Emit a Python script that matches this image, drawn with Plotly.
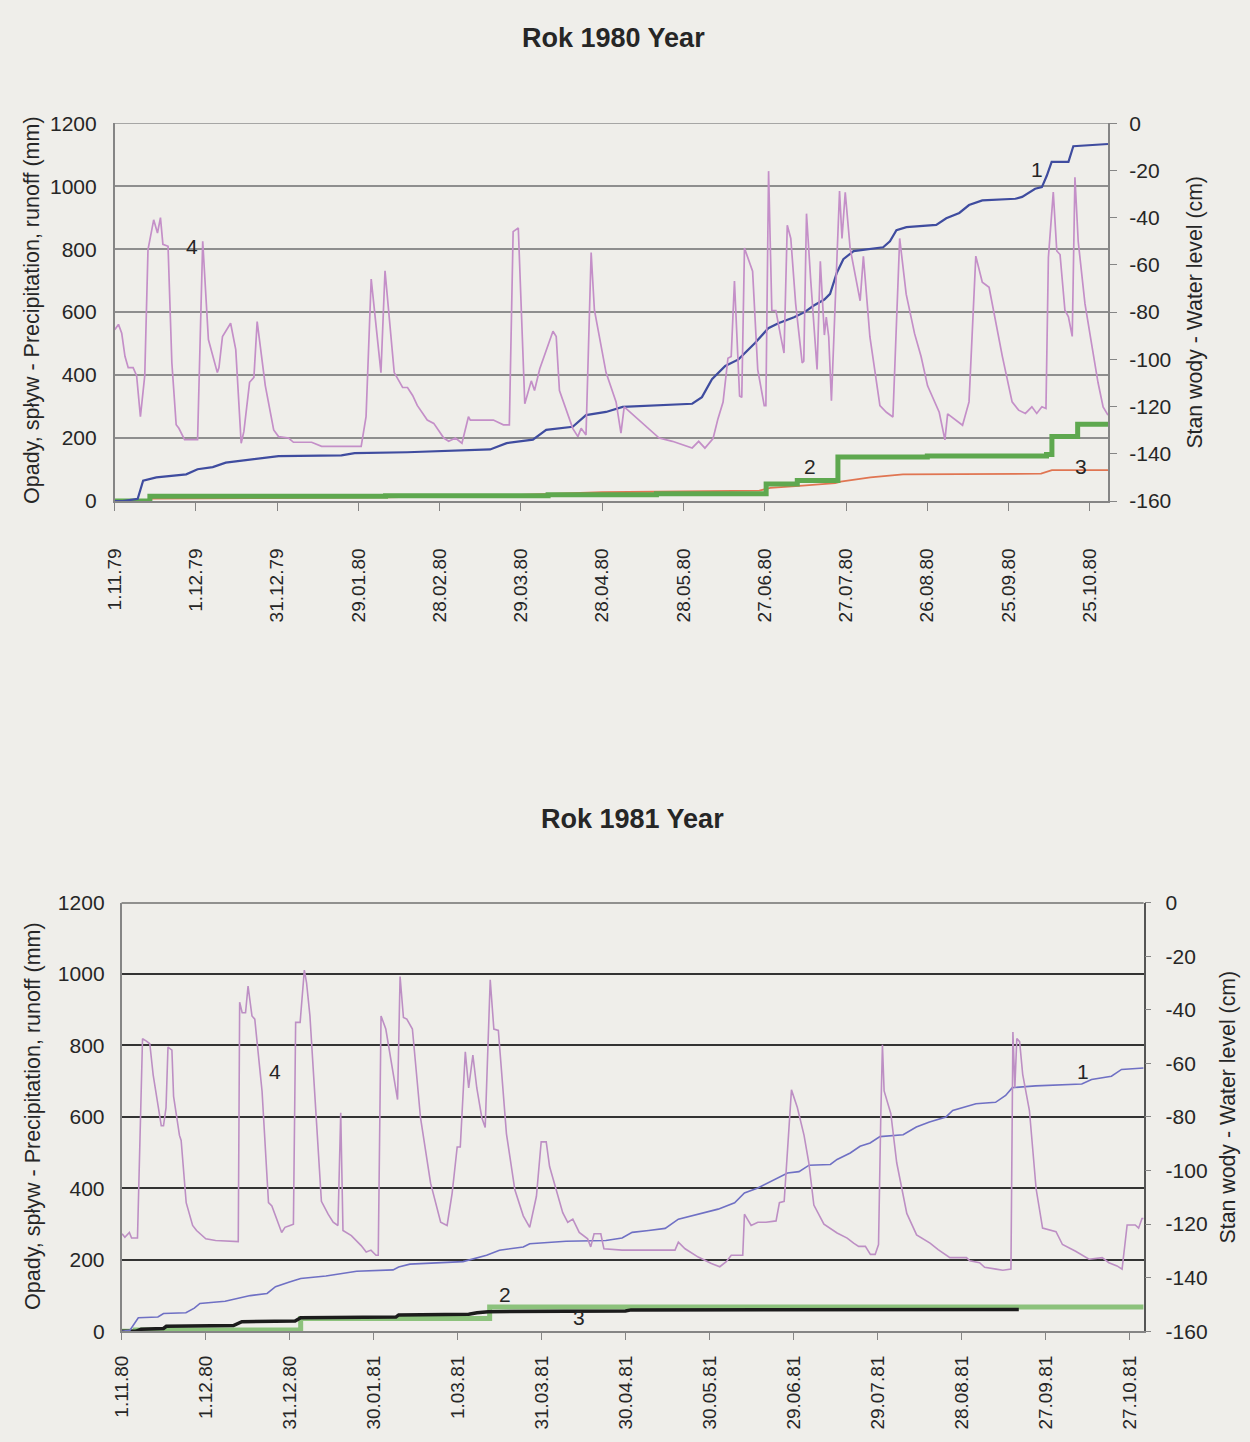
import plotly.graph_objects as go

W, H = 1250, 1442
PAPER = "rgb(239,238,234)"
FONT = "Liberation Sans, Arial, sans-serif"
INK = "#262626"

# ---------------- Rok 1980 (day 0 = 1.11.79) ----------------
ticks_80 = ["1.11.79", "1.12.79", "31.12.79", "29.01.80", "28.02.80", "29.03.80",
            "28.04.80", "28.05.80", "27.06.80", "27.07.80", "26.08.80", "25.09.80", "25.10.80"]

# 1 - cumulative precipitation (mm)
p80_day = [0, 3, 8.5, 10.5, 15.4, 26.4, 30.6, 36.2, 41.0, 50.8, 60.5, 83.7, 88.6, 108, 138.6,
           144.7, 154.4, 159.3, 169.1, 174.0, 181.4, 187.5, 199.7, 213.2, 216.8, 220.5, 225.4,
           230.3, 236.4, 241.3, 245.0, 250.8, 254.7, 258.1, 262.0, 264.1, 266.6, 269.0, 272.8,
           283.7, 286.2, 288.6, 292.3, 303.3, 307.0, 311.8, 315.4, 320.3, 332.5, 335.0, 339.8,
           342.3, 344.1, 345.9, 352.1, 353.9, 366.7]
p80_mm = [0, 0, 7, 65, 75, 85, 101, 108, 122, 132, 143, 145, 152, 155, 164,
          184, 195, 226, 236, 273, 283, 299, 304, 309, 330, 387, 429,
          450, 502, 549, 565, 584, 600, 621, 640, 658, 725, 768, 794,
          806, 825, 860, 870, 877, 898, 915, 940, 955, 960, 966, 992,
          997, 1033, 1077, 1077, 1127, 1134]

# 2 - cumulative runoff (mm), stepwise
r80_day = [0, 13, 100, 160, 200, 240.5, 252, 267, 300, 344, 346, 355.5, 366.7]
r80_mm = [0, 15, 17, 20, 23, 54, 65, 140, 143, 148, 205, 244, 244]

# 3 - cumulative runoff, second series (mm)
s80_day = [0, 12, 14, 100, 150, 180, 238, 242, 254, 266, 268, 279, 291, 342, 346, 366.7]
s80_mm = [0, 0, 8, 12, 20, 28, 33, 42, 49, 57, 62, 75, 85, 87, 98, 98]

# 4 - water level (cm)
w80_day = [0, 1.4, 2.6, 3.8, 5.0, 6.8, 8.1, 9.5, 11.1, 12.3, 14.4, 15.8, 16.9, 17.8, 19.7,
           21.1, 22.7, 23.7, 25.8, 30.6, 32.5, 34.6, 37.9, 38.5, 39.8, 42.8, 44.7, 46.7, 47.7,
           49.8, 51.4, 52.6, 55.6, 58.7, 60.5, 64.2, 66.0, 72.7, 76.4, 91.0, 92.8, 94.7, 98.3,
           99.8, 103.2, 106.3, 108.1, 110.0, 111.7, 115.4, 117.8, 121.5, 123.3, 125.8, 128.2,
           130.6, 131.3, 139.8, 143.5, 145.7, 147.1, 149.0, 151.4, 153.8, 155.0, 156.9, 161.8,
           163.0, 164.2, 169.1, 171.0, 172.2, 174.0, 175.9, 177.1, 181.4, 185.1, 186.9, 188.1,
           193.6, 197.3, 201.0, 205.9, 213.2, 215.6, 217.9, 220.9, 222.7, 224.6, 226.4, 227.6,
           228.8, 230.7, 231.5, 232.5, 234.3, 235.5, 237.4, 239.8, 240.4, 241.4, 242.6, 244.1,
           245.9, 247.1, 248.3, 249.6, 251.4, 253.8, 254.4, 255.4, 256.9, 259.3, 260.5, 262.0,
           262.7, 263.6, 264.6, 266.0, 267.6, 268.5, 269.7, 271.5, 274.0, 275.2, 276.4, 278.8,
           282.5, 284.9, 287.3, 287.9, 289.8, 292.2, 295.3, 297.7, 300.1, 304.4, 306.5, 307.5,
           310.5, 313.0, 315.4, 317.9, 320.3, 322.8, 327.7, 331.3, 333.7, 336.2, 338.6, 340.4,
           342.3, 343.8, 344.7, 346.5, 347.8, 349.0, 350.8, 352.1, 353.5, 354.5, 355.7, 358.2,
           360.6, 363.0, 364.9, 366.7]
w80_cm = [-87.5, -85.2, -88.9, -98.7, -103.5, -103.5, -106.9, -124.3, -106.9, -53.5, -40.9, -46.5, -40.0, -51.3, -52.1,
          -101.3, -127.7, -129.2, -134.0, -134.0, -50.0, -91.6, -105.6, -103.5, -90.3, -84.7, -95.9, -135.5, -130.5,
          -109.7, -107.6, -84.0, -111.1, -129.9, -132.7, -133.3, -135.1, -135.1, -136.8, -136.8, -124.3, -66.0, -105.6,
          -62.5, -105.6, -111.9, -111.9, -115.3, -119.5, -125.7, -127.1, -133.3, -134.7, -133.3, -135.5,
          -124.3, -125.7, -125.7, -127.7, -127.7, -45.9, -44.4, -118.8, -109.1, -113.2, -104.1, -88.1,
          -90.3, -113.2, -129.2, -132.7, -129.2, -132.0, -54.8, -79.1, -105.6, -118.0, -131.2, -120.1,
          -125.7, -129.2, -133.3, -134.7, -137.5, -134.7, -137.6, -133.5, -125.2, -118.1, -99.5, -98.8,
          -66.8, -115.5, -116.1, -52.9, -58.5, -62.7, -104.3, -119.6, -119.6, -20.3, -79.3, -79.3,
          -90.4, -97.3, -43.2, -48.8, -76.5, -101.5, -100.8, -38.3, -65.5, -104.3, -58.5, -89.7,
          -82.1, -90.4, -117.5, -73.7, -28.7, -48.8, -29.3, -52.9, -68.1, -75.2, -56.4, -90.4,
          -119.6, -122.4, -124.4, -105.7, -48.8, -72.4, -89.1, -98.8, -111.2, -122.4, -134.1, -123.1,
          -125.9, -127.9, -118.0, -56.3, -67.3, -69.5, -98.7, -118.0, -121.5, -122.9, -120.1, -122.9,
          -120.1, -120.8, -56.9, -29.2, -54.1, -55.6, -79.2, -82.0, -90.3, -22.9, -50.0, -76.4,
          -93.1, -109.7, -120.1, -123.6]

# ---------------- Rok 1981 (day 0 = 1.11.80) ----------------
ticks_81 = ["1.11.80", "1.12.80", "31.12.80", "30.01.81", "1.03.81", "31.03.81",
            "30.04.81", "30.05.81", "29.06.81", "29.07.81", "28.08.81", "27.09.81", "27.10.81"]

p81_day = [0, 3, 6, 13, 15, 23, 26, 28, 37, 41, 46, 52, 55, 60, 64, 73, 78, 84, 97, 99, 103, 109,
           122, 130.4, 135, 143.5, 145.8, 158.8, 173, 178.8, 182.4, 188.3, 194.2, 198.9, 208.4,
           213.1, 219, 222.5, 227.3, 229.6, 237.9, 242, 245.6, 253.2, 255.6, 260.3, 263.8, 267.4,
           270.9, 279.2, 283.9, 288.6, 294.5, 296.9, 305.2, 312.2, 315.8, 318.2, 326.5, 343,
           346.5, 353.6, 357.2, 365.1]
p81_mm = [0, 3, 38, 40, 50, 52, 65, 78, 84, 92, 100, 106, 125, 138, 148, 155, 160, 168, 172, 180, 188, 190,
          195, 213, 227, 236, 245, 252, 254, 261, 277, 282, 288, 314, 332,
          342, 360, 387, 401, 410, 443, 447, 465, 467, 481, 499, 518, 527,
          545, 550, 572, 586, 600, 618, 637, 641, 660, 682, 687, 692,
          705, 714, 733, 737]

r81_day = [0, 5, 64, 131.5, 365.1]
r81_mm = [0, 4, 36, 68, 68]

s81_day = [0, 5, 7, 15, 16, 40, 43, 62, 64, 98, 99, 124, 127, 131, 180, 182, 320.5]
s81_mm = [0, 0, 6, 8, 14, 16, 27, 29, 38, 40, 46, 48, 52, 55, 57, 60, 61]

w81_day = [0.2, 1.2, 2.8, 3.6, 5.7, 7.5, 8.9, 10.1, 11.3, 14.2, 15.0, 15.9, 16.6, 18.0, 18.6,
           20.7, 21.3, 23.1, 25.4, 26.8, 30.1, 33.6, 41.7, 42.2, 43.1, 44.3, 45.2, 46.6, 47.6,
           50.2, 52.5, 53.7, 57.2, 58.4, 60.2, 61.4, 62.2, 63.8, 65.3, 66.1, 67.3, 70.3, 71.4,
           73.8, 75.6, 77.3, 78.3, 79.1, 82.1, 85.6, 87.4, 89.1, 90.9, 91.7, 92.7, 94.4, 95.6,
           97.4, 98.6, 99.5, 100.7, 101.9, 103.9, 106.8, 110.4, 114.0, 116.3, 118.1, 119.9,
           121.0, 122.8, 124.0, 125.5, 126.9, 128.7, 129.9, 131.7, 133.0, 134.6, 137.5, 140.5,
           143.5, 145.8, 148.2, 149.9, 151.7, 152.9, 157.6, 159.4, 161.2, 163.5, 166.5, 167.6,
           168.8, 171.2, 172.3, 178.8, 197.7, 198.9, 201.3, 206.0, 210.7, 213.7, 216.0, 217.8,
           221.9, 222.5, 224.9, 227.3, 230.2, 233.8, 235.0, 236.7, 239.3, 241.4, 243.8, 245.5,
           247.3, 250.9, 255.6, 259.2, 261.5, 263.3, 265.7, 267.5, 269.2, 270.4, 271.2, 271.8,
           272.4, 274.8, 276.9, 278.7, 280.5, 284.0, 285.8, 288.8, 291.7, 295.9, 301.8, 303.0,
           306.5, 308.3, 312.4, 314.8, 317.7, 318.4, 319.1, 319.8, 320.8, 321.9, 324.3, 326.7,
           329.0, 333.8, 336.1, 340.8, 345.6, 350.3, 352.7, 355.6, 357.4, 359.2, 362.1, 363.3,
           364.5, 365.1]
w81_cm = [-123.6, -124.9, -123.1, -125.2, -125.2, -50.8, -51.7, -52.7, -64.3, -83.3, -83.3, -76.5, -53.9, -55.1, -72.3,
          -86.9, -88.8, -112.0, -120.5, -122.4, -125.5, -126.1, -126.5, -37.2, -41.1, -41.1, -31.2, -42.3, -43.5,
          -70.4, -112.0, -113.2, -123.1, -121.2, -120.5, -120.0, -44.7, -44.7, -25.2, -30.0, -42.3, -94.9, -111.5,
          -116.3, -119.3, -120.5, -78.4, -122.4, -124.3, -128.0, -130.4, -129.7, -131.6, -131.6, -42.3, -47.2, -54.5,
          -65.5, -73.5, -27.6, -42.9, -43.5, -47.2, -80.3, -104.7, -119.3, -120.5, -108.4, -91.2,
          -91.2, -55.7, -69.2, -56.9, -69.2, -80.3, -83.9, -28.8, -47.2, -47.7, -86.3, -107.2,
          -116.9, -121.2, -109.6, -89.3, -89.3, -98.5, -115.7, -119.3, -118.1, -123.1, -125.5, -128.5,
          -123.6, -123.6, -129.2, -129.7, -129.7, -126.7, -129.2, -132.3, -134.7, -135.9, -134.0, -131.6,
          -131.6, -116.3, -120.5, -119.3, -119.3, -118.8, -112.0, -111.5, -69.9, -76.5, -86.9, -97.1,
          -112.9, -120.0, -123.3, -125.2, -127.1, -128.3, -128.3, -131.3, -131.3, -127.6, -80.0, -53.1,
          -70.3, -78.8, -97.1, -106.9, -116.0, -124.0, -125.2, -127.1, -129.5, -132.5, -132.5, -133.7,
          -134.4, -136.1, -136.8, -137.2, -136.8, -48.3, -69.1, -50.7, -51.9, -64.1, -77.6, -106.9,
          -121.5, -122.8, -127.6, -130.1, -133.1, -132.5, -134.4, -135.6, -136.8, -120.3, -120.3, -121.5,
          -117.9, -117.9]

mm_ticks = list(range(0, 1201, 200))
cm_ticks = list(range(-160, 1, 20))


def fx(x):
    return x / W


def fy(y):
    return 1 - y / H


fig = go.Figure()

# top panel traces
fig.add_trace(go.Scatter(x=w80_day, y=w80_cm, xaxis="x", yaxis="y2", mode="lines",
                         line=dict(color="#c48fc8", width=1.7)))
fig.add_trace(go.Scatter(x=s80_day, y=s80_mm, xaxis="x", yaxis="y", mode="lines",
                         line=dict(color="#e07552", width=1.8)))
fig.add_trace(go.Scatter(x=r80_day, y=r80_mm, xaxis="x", yaxis="y", mode="lines",
                         line=dict(color="#5ea84f", width=5, shape="hv")))
fig.add_trace(go.Scatter(x=p80_day, y=p80_mm, xaxis="x", yaxis="y", mode="lines",
                         line=dict(color="#3f4c9f", width=2.2)))

# bottom panel traces
fig.add_trace(go.Scatter(x=w81_day, y=w81_cm, xaxis="x2", yaxis="y4", mode="lines",
                         line=dict(color="#bd8fc4", width=1.6)))
fig.add_trace(go.Scatter(x=r81_day, y=r81_mm, xaxis="x2", yaxis="y3", mode="lines",
                         line=dict(color="#8cc27c", width=5, shape="hv")))
fig.add_trace(go.Scatter(x=s81_day, y=s81_mm, xaxis="x2", yaxis="y3", mode="lines",
                         line=dict(color="#1c1c1c", width=3.5)))
fig.add_trace(go.Scatter(x=p81_day, y=p81_mm, xaxis="x2", yaxis="y3", mode="lines",
                         line=dict(color="#6f70c4", width=1.6)))

tick_font = dict(family=FONT, size=21, color=INK)
date_font = dict(family=FONT, size=19, color=INK)

top_x = [fx(104.6), fx(1107)]
top_y = [fy(497), fy(113)]
bot_x = [fx(111.5), fx(1142.7)]
bot_y = [fy(1340.7), fy(905)]

grid_top = "#8e8e8e"
grid_bot = "#333333"
axis_gray = "#858585"

fig.update_layout(
    width=W, height=H,
    margin=dict(l=0, r=0, t=0, b=0),
    paper_bgcolor=PAPER, plot_bgcolor=PAPER,
    showlegend=False,
    font=dict(family=FONT, color=INK),
    xaxis=dict(domain=top_x, anchor="y", range=[0, 366.8],
               tickvals=[30 * i for i in range(len(ticks_80))], ticktext=ticks_80,
               tickangle=-90, tickfont=date_font, ticks="outside", ticklen=8,
               tickcolor=axis_gray, ticklabelstandoff=30,
               showgrid=False, zeroline=False, showline=True, linecolor=axis_gray, linewidth=1.5),
    yaxis=dict(domain=top_y, anchor="x", range=[0, 1200], tickvals=mm_ticks,
               ticktext=[str(v) for v in mm_ticks],
               tickfont=tick_font, showgrid=True, gridcolor=grid_top, gridwidth=1.5,
               zeroline=False, showline=True, linecolor=axis_gray, linewidth=1.5,
               ticks="", ticklabelstandoff=12),
    yaxis2=dict(domain=top_y, anchor="x", overlaying="y", side="right", range=[-160, 0],
                tickvals=cm_ticks, ticktext=[str(v) for v in cm_ticks],
                tickfont=tick_font, showgrid=False,
                zeroline=False, showline=True, linecolor=axis_gray, linewidth=1.5,
                ticks="outside", ticklen=7, tickcolor=axis_gray, ticklabelstandoff=8),
    xaxis2=dict(domain=bot_x, anchor="y3", range=[0, 365.1],
                tickvals=[30 * i for i in range(len(ticks_81))], ticktext=ticks_81,
                tickangle=-90, tickfont=date_font, ticks="outside", ticklen=7,
                tickcolor=axis_gray, ticklabelstandoff=8,
                showgrid=False, zeroline=False, showline=True, linecolor=axis_gray, linewidth=1.5),
    yaxis3=dict(domain=bot_y, anchor="x2", range=[0, 1200], tickvals=mm_ticks,
                ticktext=[str(v) for v in mm_ticks],
                tickfont=tick_font, showgrid=True, gridcolor=grid_bot, gridwidth=2,
                zeroline=False, showline=True, linecolor=axis_gray, linewidth=1.5,
                ticks="", ticklabelstandoff=11),
    yaxis4=dict(domain=bot_y, anchor="x2", overlaying="y3", side="right", range=[-160, 0],
                tickvals=cm_ticks, ticktext=[str(v) for v in cm_ticks],
                tickfont=tick_font, showgrid=False,
                zeroline=False, showline=True, linecolor="#555555", linewidth=1.5,
                ticks="outside", ticklen=6, tickcolor=axis_gray, ticklabelstandoff=10),
)

# top edge of each plot frame, drawn in the grid style
fig.add_shape(type="line", xref="x domain", yref="y", x0=0, x1=1, y0=1200, y1=1200,
              line=dict(color=grid_top, width=1.5), layer="below")
fig.add_shape(type="line", xref="x2 domain", yref="y3", x0=0, x1=1, y0=1200, y1=1200,
              line=dict(color=grid_bot, width=2), layer="below")

notes = []


def text(x, y, s, size=21, angle=0, bold=False):
    notes.append(dict(x=fx(x), y=fy(y), xref="paper", yref="paper", text=f"<b>{s}</b>" if bold else s,
                      showarrow=False, textangle=angle, xanchor="center", yanchor="middle",
                      font=dict(family=FONT, size=size, color=INK)))


# panel titles
text(608, 26, "Rok 1980 Year", size=27, bold=True)
text(627, 820, "Rok 1981 Year", size=27, bold=True)

# axis titles
text(21, 303, "Opady, spływ - Precipitation, runoff (mm)", size=21.5, angle=-90)
text(1195, 305, "Stan wody - Water level (cm)", size=21.3, angle=-90)
text(22, 1122, "Opady, spływ - Precipitation, runoff (mm)", size=21.5, angle=-90)
text(1228, 1113, "Stan wody - Water level (cm)", size=21.3, angle=-90)

# series numbers
text(1035, 160, "1")
text(806, 462, "2")
text(1080, 462, "3")
text(183, 238, "4")
text(1082, 1077, "1")
text(498, 1303, "2")
text(573, 1327, "3")
text(266, 1077, "4")

fig.update_layout(annotations=notes)

fig.write_html("out.html")
